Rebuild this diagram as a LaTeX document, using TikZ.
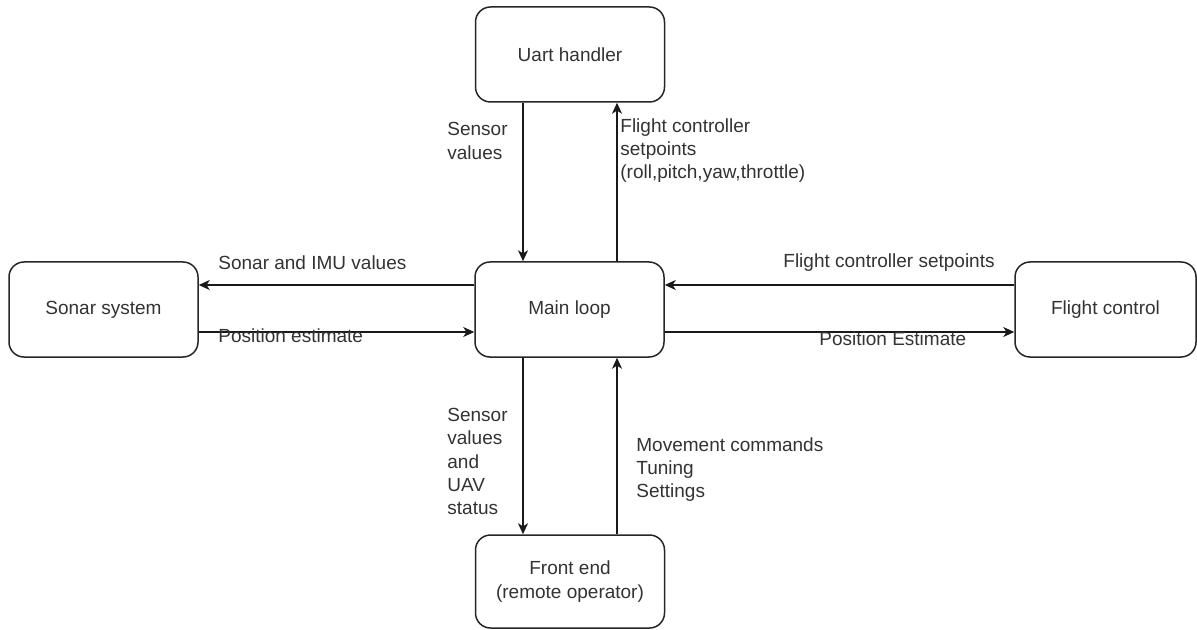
\documentclass[tikz,border=0pt]{standalone}
\usepackage{fontspec}
\setmainfont{Liberation Sans}
\usetikzlibrary{arrows.meta}

\tikzset{
  block/.style={draw=black!85, line width=0.75pt, rounded corners=7.5pt,
    minimum width=94.5pt, minimum height=47.5pt, inner sep=0pt,
    font=\fontsize{9.5}{11.6}\selectfont, text=black!80, align=center},
  flow/.style={draw=black!90, line width=0.75pt,
    -{Stealth[length=5.5pt,width=5pt,inset=1.6pt]}},
  lbl/.style={inner sep=0pt, anchor=west, align=left,
    font=\fontsize{9.5}{11.6}\selectfont, text=black!80},
}

\begin{document}
\begin{tikzpicture}[x=0.5pt,y=-0.5pt]
\useasboundingbox (0,0) rectangle (1197,630);
\fill[white] (0,0) rectangle (1197,630);

% boxes
\node[block] (uart)   at (570,54.5)    {Uart handler};
\node[block] (main)   at (569.5,309.5) {Main loop};
\node[block] (sonar)  at (103.5,309.5) {Sonar system};
\node[block, minimum width=90.5pt] (fc) at (1105.5,309.5) {Flight control};
\node[block, minimum height=46.5pt] (front) at (570,581.5) {Front end\\(remote operator)};

% links between Uart handler and Main loop
\draw[flow] (uart.south -| 523,0) -- (main.north -| 523,0);
\draw[flow] (main.north -| 617,0) -- (uart.south -| 617,0);

% links between Main loop and Sonar system
\draw[flow] (main.west |- 0,285) -- (sonar.east |- 0,285);
\draw[flow] (sonar.east |- 0,332) -- (main.west |- 0,332);

% links between Main loop and Flight control
\draw[flow] (fc.west |- 0,285) -- (main.east |- 0,285);
\draw[flow] (main.east |- 0,332) -- (fc.west |- 0,332);

% links between Main loop and Front end
\draw[flow] (main.south -| 523,0) -- (front.north -| 523,0);
\draw[flow] (front.north -| 617,0) -- (main.south -| 617,0);

% labels
\node[lbl] (l1) at (447,141)   {Sensor\\values};
\node[lbl] (l2) at (620,150.5) {Flight controller\\setpoints\\(roll,pitch,yaw,throttle)};
\node[lbl] (l3) at (218,263)   {Sonar and IMU values};
\node[lbl] (l4) at (218,336)   {Position estimate};
\node[lbl] (l5) at (783,263)   {Flight controller setpoints};
\node[lbl] (l6) at (819,339)   {Position Estimate};
\node[lbl] (l7) at (447,461.5) {Sensor\\values\\and\\UAV\\status};
\node[lbl] (l8) at (636,469.5) {Movement commands\\Tuning\\Settings};
\end{tikzpicture}
\end{document}
